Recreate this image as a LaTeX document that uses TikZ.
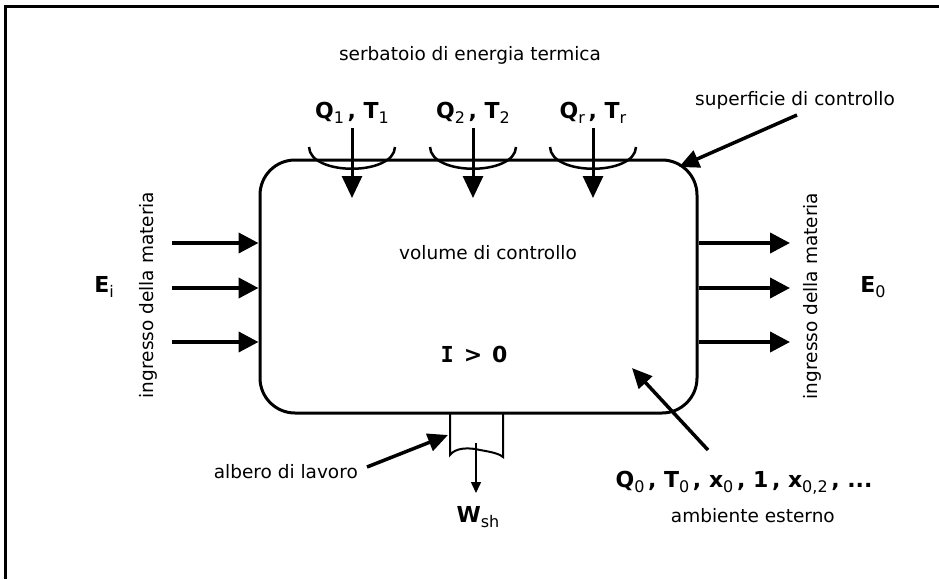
\documentclass[tikz,border=0pt]{standalone}
\usepackage{fontspec}
\setmainfont{DejaVu Sans}
\newfontfamily\mymono{DejaVu Sans Mono}
\usetikzlibrary{arrows.meta}
\newcommand{\lowsub}[1]{\raisebox{-0.45ex}{\fontsize{16}{16}\selectfont\mdseries #1}}
\begin{document}
\begin{tikzpicture}[x=1pt,y=-1pt,
  lbl/.style={font=\fontsize{18.5}{22}\selectfont, inner sep=0pt},
  blbl/.style={font=\fontsize{22}{26}\selectfont\bfseries, inner sep=0pt},
  bigarrow/.style={line width=4pt, -{Triangle[length=20pt,width=20pt]}},
  qarrow/.style={line width=3pt, -{Triangle[length=22pt,width=20pt]}},
  pointer/.style={line width=3.5pt, -{Triangle[length=20pt,width=18pt]}},
  thinarrow/.style={line width=1.5pt, -{Triangle[length=11pt,width=10pt]}},
  cvbox/.style={draw, line width=3pt, rounded corners=35pt, minimum width=437pt, minimum height=253pt, inner sep=0pt},
  arcline/.style={line width=2.5pt},
  shaft/.style={line width=2pt},
]
\useasboundingbox (0,0) rectangle (939,579);
% outer frame
\draw[line width=3pt] (5,579) -- (5,6.5) -- (939,6.5);

% control volume
\node[cvbox] (cv) at (478.5,286.5) {};

\node[lbl, anchor=base] (serb) at (470,60) {serbatoio di energia termica};

% heat inputs
\foreach \x/\n/\s in {352/1/1,473/2/2,593/3/r}{
  \coordinate (qs\n) at (\x,128);
  \coordinate (qe\n) at (\x,198);
  \draw[arcline] (\x-43,147) .. controls (\x-42,176) and (\x+42,176) .. (\x+43,147);
  \draw[qarrow] (qs\n) -- (qe\n);
  \node[blbl, anchor=base] (ql\n) at (\x,118) {Q\lowsub{\s}\,, T\lowsub{\s}};
}

% mass flows
\foreach \y/\n in {243/1,288/2,342/3}{
  \coordinate (li\n) at (172,\y);
  \draw[bigarrow] (li\n) -- (cv.west |- li\n);
  \coordinate (ro\n) at (790,\y);
  \draw[bigarrow] (cv.east |- ro\n) -- (ro\n);
}
\node[lbl, rotate=90, anchor=base] (ingL) at (153,295) {ingresso della materia};
\node[lbl, rotate=90, anchor=base] (ingR) at (817,296) {ingresso della materia};
\node[blbl, anchor=base] (Ei) at (104,292) {E\lowsub{i}};
\node[blbl, anchor=base] (Eo) at (873,292) {E\lowsub{0}};

% inner texts
\node[lbl, anchor=base] (vol) at (488,259) {volume di controllo};
\node[blbl, anchor=base] (irr) at (474,362) {{\mymono I}\hspace{10pt}>\hspace{10pt}0};

% control surface pointer
\node[lbl, anchor=base] (sup) at (795,105) {superficie di controllo};
\coordinate (supA) at (797,115);
\coordinate (supB) at (679,167);
\draw[pointer] (supA) -- (supB);

% shaft
\draw[shaft] (450,414) -- (450,455) .. controls (455,448) and (468,447) .. (480,450) .. controls (492,452) and (500,454) .. (503,457) -- (503,414);
\coordinate (ws) at (476,443);
\coordinate (we) at (476,493);
\draw[thinarrow] (ws) -- (we);
\node[blbl, anchor=base] (W) at (478,522) {W\lowsub{sh}};
\node[lbl, anchor=base east] (alb) at (358,478) {albero di lavoro};
\coordinate (albA) at (367,467);
\coordinate (albB) at (448,435);
\draw[pointer] (albA) -- (albB);

% environment
\coordinate (envA) at (708,450);
\coordinate (envB) at (632,368);
\draw[pointer] (envA) -- (envB);
\node[blbl, anchor=base] (env) at (744,487) {Q\lowsub{0}\,, T\lowsub{0}\,, x\lowsub{0}\,, 1\,, x\lowsub{0,2}\,, ...};
\node[lbl, anchor=base east] (amb) at (835,522) {ambiente esterno};
\end{tikzpicture}
\end{document}
